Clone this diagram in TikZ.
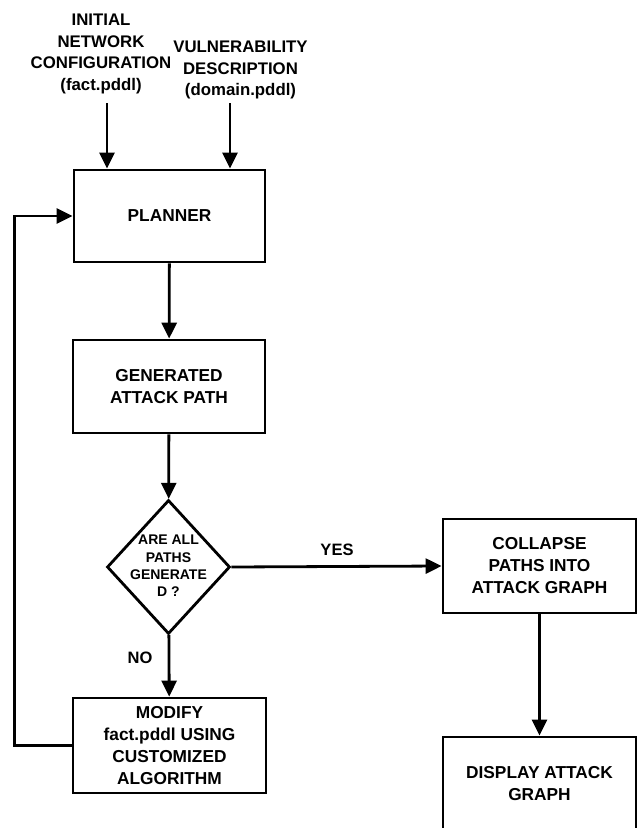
\documentclass[tikz,border=0pt]{standalone}
\usepackage{fontspec}
\setmainfont{Liberation Sans}
\usetikzlibrary{arrows.meta,shapes.geometric}
\begin{document}
\begin{tikzpicture}[x=1pt,y=-1pt,
  box/.style={draw,line width=2.8pt,rectangle,minimum width=192pt,minimum height=93pt,inner sep=0pt,align=center,
    font=\bfseries\fontsize{17.3}{22}\selectfont},
  toptext/.style={align=center,inner sep=0pt,font=\bfseries\fontsize{16.8}{21.5}\selectfont},
  lbl/.style={inner sep=0pt,font=\bfseries\fontsize{16.5}{20}\selectfont},
  arr/.style={line width=2.8pt,-{Triangle[width=15pt,length=16pt]}},
  ln/.style={line width=2.8pt}]
\useasboundingbox (0,0) rectangle (638,828);
\clip (0,0) rectangle (638,828);
\node[toptext] (init) at (101,54) {INITIAL\\NETWORK\\CONFIGURATION\\(fact.pddl)};
\node[toptext] (vuln) at (240.5,70) {VULNERABILITY\\DESCRIPTION\\(domain.pddl)};
\coordinate (i1) at (107,103);
\coordinate (v1) at (230,103);
\node[box,minimum width=191pt,minimum height=92pt] (planner) at (169.5,216) {PLANNER};
\node[box] (gen) at (169,386.5) {GENERATED\\ATTACK PATH};
\node[draw,line width=2.8pt,shape=diamond,minimum width=123pt,minimum height=134pt,inner sep=0pt] (dec) at (168.5,567) {};
\node[align=center,inner sep=0pt,font=\bfseries\fontsize{14}{17.3}\selectfont] (dectext) at (168.5,566) {ARE ALL\\PATHS\\GENERATE\\D ?};
\node[box,minimum width=193pt,minimum height=95pt] (modify) at (169.5,745.5) {MODIFY\\fact.pddl USING\\CUSTOMIZED\\ALGORITHM};
\node[box,minimum width=193pt,minimum height=94pt] (collapse) at (539.5,566) {COLLAPSE\\PATHS INTO\\ATTACK GRAPH};
\node[box,minimum width=193pt,minimum height=93pt] (display) at (539.5,783.5) {DISPLAY ATTACK\\GRAPH};
\node[lbl] (yes) at (337,550) {YES};
\node[lbl] (no) at (140,658) {NO};
\draw[arr] (i1) -- (i1 |- planner.north);
\draw[arr] (v1) -- (v1 |- planner.north);
\draw[arr] (planner) -- (gen);
\draw[arr] (gen) -- (dec);
\draw[arr] (dec) -- (modify);
\draw[arr] (dec.east) -- (collapse.west);
\draw[arr] (collapse) -- (display);
\draw[arr] (modify.west) -- ++(-57,0) |- (planner.west);
\end{tikzpicture}
\end{document}
